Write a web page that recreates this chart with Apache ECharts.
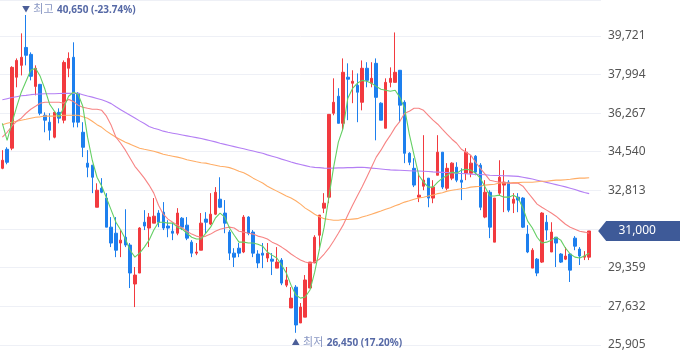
<!DOCTYPE html>
<html>
<head>
<meta charset="utf-8">
<script src="https://cdn.jsdelivr.net/npm/echarts@6/dist/echarts.min.js"></script>
<style>
html,body{margin:0;padding:0;background:#fff;}
#c{width:680px;height:358px;}
</style>
</head>
<body>
<div id="c"></div>
<script>
// ---- data ----
const opens = [33800,34650,34700,37870,38400,39200,38890,37460,37550,36170,
 35860,35190,36300,35950,38270,38760,37150,35410,34030,33940,
 32060,32910,32470,31170,30900,30460,30720,30370,28630,29120,
 31390,31130,31350,31800,31840,31220,30990,30900,31570,31260,
 30500,30010,30140,31530,31310,31750,32420,31800,30950,30010,
 30230,30060,31620,30950,29970,30010,29790,29740,29340,29700,
 28580,27560,28490,26890,27150,28450,29570,30810,32020,32510,
 36260,37020,35810,37870,37600,37510,36750,38270,37600,38490,
 36710,35590,37640,37640,38180,36750,34470,33800,32510,33000,
 33360,32470,33490,34520,32910,33360,33850,33270,33580,33580,
 34340,33940,31620,32730,30500,32690,33050,33180,32240,32510,
 32470,30860,29340,29740,29610,31390,30060,30720,29970,29740,
 29970,30680,30190,29830,29830];
const closes = [34160,34070,38310,38620,38760,38850,37910,38270,36260,35950,
 35500,36300,36040,38530,38710,35860,35860,34740,33850,33400,
 32820,32730,31170,30460,30140,30590,30370,29120,29030,31130,
 31220,31620,31660,31390,31130,31130,30900,31800,31170,30680,
 30010,30060,31350,31390,31750,32730,32060,31350,30010,29830,
 30010,31620,30900,30010,29570,29920,30010,29650,29610,28670,
 28810,28000,26800,27600,28810,29610,30720,31710,32240,36210,
 36750,35810,38090,37780,37690,37200,38270,37730,37820,36970,
 35950,37640,37820,38090,36620,34470,34070,33050,32600,33270,
 32470,32960,34520,32960,33800,34030,33270,33180,34520,34030,
 33630,32060,32730,31170,32470,33400,33180,31930,32420,32380,
 31170,30060,30140,29120,31800,31040,30950,30460,29610,29880,
 29250,30320,29880,29880,31000];
const lows = [33760,33980,34610,37420,37950,38400,37730,37060,36170,35410,
 35050,35140,35810,35810,37870,35630,35630,34300,33400,32690,
 32060,32690,31170,30280,29830,29830,30280,28450,27600,29120,
 31040,30280,31350,31170,31040,30720,30590,30810,31040,30590,
 29830,29920,30140,30900,31260,31710,32020,30900,29700,29390,
 29830,30010,30810,29830,29340,29340,29610,29030,29340,28580,
 28490,27560,26450,26890,27150,28450,29570,30140,31800,32240,
 36170,35810,35500,35950,36710,35860,36390,37420,37420,35050,
 35950,35590,37420,37640,35860,34030,33940,32960,32290,32820,
 32060,32240,33490,32870,32820,33270,33180,32380,33270,33400,
 33490,31930,31570,30680,30500,32600,31840,31840,31800,31840,
 31130,30010,29340,28980,29570,30590,30060,29390,29570,29700,
 28720,30140,29480,29700,29700];
const highs = [34610,34740,38360,38710,39830,40650,38980,38400,37570,36300,
 36260,36330,36480,38620,38980,39430,37200,35860,34610,33940,
 33130,33360,32690,31620,31620,31040,31970,30460,29390,31170,
 31930,31800,32470,31930,32290,31480,31350,32020,31620,31620,
 30590,30460,31800,31840,32690,32960,33400,32380,31040,30230,
 30460,31710,31660,31040,30140,30460,30460,30010,30280,29790,
 29390,28490,28580,27780,29030,29610,30810,31710,32690,36210,
 37820,37380,38710,38490,38180,38040,38620,38540,38540,38710,
 36750,37820,38310,39870,38180,36840,34520,34250,33580,35280,
 33360,33270,35280,34520,34030,34070,34070,33800,34700,34390,
 34390,34030,33270,32820,32470,34160,33720,33270,32690,32690,
 32510,31260,30230,29790,31840,31710,31390,30720,30010,30280,
 30010,30770,30280,30100,31000];

const ma5 = [35810,35050,35810,36530,37200,37690,38180,38270,37910,37330,
 36660,36350,36080,36530,37020,37200,37110,36570,35190,34160,
 33400,33000,32470,31930,31390,31040,30640,30140,29830,30010,
 30280,30590,31040,31390,31390,31350,31350,31170,31080,30900,
 30720,30640,30640,30900,31170,31570,31800,31620,31130,30810,
 30500,30500,30460,30460,30410,30320,30060,29920,29790,29480,
 29120,28580,28140,28000,28050,28360,29160,30190,31170,32510,
 33850,34970,35590,36930,37370,37600,37730,37690,37600,37460,
 37330,37290,37240,37290,36970,36480,35320,34390,33490,33180,
 32960,32960,33180,33360,33490,33630,33580,33720,33760,33720,
 33580,33360,32960,32560,32560,32600,32510,32510,32600,32470,
 32020,31440,31130,30720,30460,30500,30590,30720,30590,30230,
 29970,29830,29790,29880,30010];
const ma20 = [35190,35410,35680,35900,36040,36260,36440,36570,36710,36750,
 36750,36750,36750,36710,36880,36790,36620,36530,36480,36440,
 36440,36390,36130,35720,35190,34920,34610,34250,33890,33630,
 33360,33050,32690,32150,31750,31530,31390,31260,31130,30990,
 30860,30770,30720,30770,30860,30990,31080,31130,31170,31130,
 30990,30950,30900,30860,30770,30720,30640,30500,30410,30280,
 30140,29970,29830,29700,29610,29560,29610,29740,29970,30230,
 30550,30900,31260,31710,32150,32560,32960,33400,33850,34300,
 34610,34970,35280,35630,35900,36260,36350,36480,36480,36390,
 36170,35950,35770,35540,35320,35100,34920,34650,34520,34380,
 34070,33800,33540,33270,33220,33180,33180,33130,33130,33130,
 33000,32730,32470,32200,32060,31930,31800,31660,31480,31300,
 31170,31080,30990,30950,30900];
const ma60 = [35750,35810,35860,35900,35950,35990,36040,36080,36100,36130,
 36130,36130,36150,36170,36170,36170,36170,36100,36040,35900,
 35750,35630,35460,35320,35190,35080,34960,34880,34790,34700,
 34650,34610,34560,34500,34430,34380,34340,34300,34250,34180,
 34140,34090,34050,34030,33980,33940,33890,33870,33830,33760,
 33670,33600,33490,33360,33250,33140,33000,32890,32780,32670,
 32560,32470,32350,32200,32020,31890,31750,31640,31550,31510,
 31480,31480,31510,31510,31530,31550,31620,31680,31750,31820,
 31890,31970,32040,32130,32200,32290,32350,32420,32470,32510,
 32560,32600,32670,32710,32780,32820,32850,32890,32910,32960,
 32980,33000,33050,33070,33090,33140,33140,33140,33160,33160,
 33180,33180,33180,33200,33220,33220,33250,33270,33270,33290,
 33310,33340,33360,33360,33380];
const ma120 = [36860,36910,36960,37000,37040,37060,37090,37110,37120,37130,
 37130,37130,37140,37150,37150,37150,37150,37090,37030,36980,
 36920,36860,36780,36690,36550,36420,36290,36170,36050,35920,
 35800,35670,35590,35530,35460,35410,35370,35330,35290,35250,
 35210,35170,35130,35080,35030,34980,34920,34870,34820,34770,
 34720,34670,34620,34570,34520,34470,34400,34340,34280,34210,
 34150,34080,34020,33970,33920,33870,33840,33830,33810,33800,
 33810,33820,33820,33830,33830,33840,33850,33830,33810,33790,
 33770,33750,33730,33720,33710,33700,33690,33680,33680,33670,
 33660,33640,33630,33620,33610,33600,33580,33570,33560,33540,
 33530,33520,33510,33490,33480,33480,33470,33460,33450,33440,
 33400,33360,33320,33270,33220,33170,33120,33070,33020,32970,
 32910,32850,32780,32720,32670];

const yTicks = [25905, 27632, 29359, 31086, 32813, 34540, 36267, 37994, 39721];
const hiddenTick = 31086;
const highLabel = { word: '최고', value: 40650, pct: '-23.74%' };
const lowLabel  = { word: '최저', value: 26450, pct: '17.20%' };
const lastPrice = 31000;
const emptySlots = 2;

// ---- build ----
const days = opens.map((_, i) => 'D' + (i + 1)).concat(Array(emptySlots).fill(''));
const ohlc = opens.map((o, i) => [o, closes[i], lows[i], highs[i]]);
const highIdx = highs.indexOf(Math.max(...highs));
const lowIdx = lows.indexOf(Math.min(...lows));
const lastIdx = closes.length - 1;
const fmt = v => Math.round(v).toLocaleString('en-US');
const FONT = "'Noto Sans', 'Noto Sans CJK KR', sans-serif";

const richStyle = {
  t: { color: '#4b5e98', fontSize: 8, fontFamily: FONT },
  k: { color: '#8a98c4', fontSize: 11, fontFamily: FONT },
  v: { color: '#5669a6', fontSize: 10, fontWeight: 'bold', fontFamily: FONT }
};

const chart = echarts.init(document.getElementById('c'), null, { renderer: 'canvas' });
const lineSeries = (name, data, color) => ({
  name, type: 'line', data, symbol: 'none', smooth: false, silent: true,
  lineStyle: { width: 1.1, color }, itemStyle: { color }, z: 3
});

chart.setOption({
  animation: false,
  backgroundColor: '#ffffff',
  grid: { left: 0, right: 79, top: 0, bottom: 13, containLabel: false },
  xAxis: {
    type: 'category', data: days, boundaryGap: true,
    axisLine: { show: false }, axisTick: { show: false }, axisLabel: { show: false },
    splitLine: { show: false }
  },
  yAxis: {
    type: 'value', position: 'right',
    min: yTicks[0], max: 41320, interval: yTicks[1] - yTicks[0],
    axisLine: { show: false }, axisTick: { show: false },
    axisLabel: {
      show: true, showMaxLabel: false, margin: 7,
      color: '#555555', fontSize: 12, fontFamily: FONT,
      formatter: v => Math.abs(v - hiddenTick) < 1 ? '' : fmt(v)
    },
    splitLine: { show: true, lineStyle: { color: '#eef0f6', width: 1 } }
  },
  series: [
    {
      name: 'price', type: 'candlestick', data: ohlc, barWidth: 3, z: 2,
      itemStyle: { color: '#f23a3f', color0: '#1d7fee', borderColor: '#f23a3f', borderColor0: '#1d7fee', borderWidth: 1 },
      markPoint: {
        silent: true,
        animation: false,
        data: [
          {
            coord: [highIdx, highs[highIdx]], symbol: 'circle', symbolSize: 1,
            itemStyle: { color: 'rgba(0,0,0,0)' },
            label: {
              show: true, position: 'inside', align: 'left', verticalAlign: 'middle',
              offset: [-4, -5],
              formatter: '{t|▼} {k|' + highLabel.word + '} {v|' + fmt(highLabel.value) + ' (' + highLabel.pct + ')}',
              rich: richStyle
            }
          },
          {
            coord: [lowIdx, lows[lowIdx]], symbol: 'circle', symbolSize: 1,
            itemStyle: { color: 'rgba(0,0,0,0)' },
            label: {
              show: true, position: 'inside', align: 'left', verticalAlign: 'middle',
              offset: [-4, 10],
              formatter: '{t|▲} {k|' + lowLabel.word + '} {v|' + fmt(lowLabel.value) + ' (' + lowLabel.pct + ')}',
              rich: richStyle
            }
          },
          {
            coord: [lastIdx, lastPrice],
            symbol: 'path://M0,10L8,0L84,0L84,20L8,20Z', symbolSize: [84, 20], symbolOffset: [51, 0],
            itemStyle: { color: '#3e5a98' },
            label: {
              show: true, position: 'inside', color: '#ffffff', fontSize: 12, fontFamily: FONT,
              offset: [-3, 0],
              formatter: () => fmt(lastPrice)
            }
          }
        ]
      }
    },
    lineSeries('MA120', ma120, '#b47ff4'),
    lineSeries('MA60', ma60, '#ffad66'),
    lineSeries('MA20', ma20, '#f78484'),
    lineSeries('MA5', ma5, '#64cf64')
  ]
});
</script>
</body>
</html>
